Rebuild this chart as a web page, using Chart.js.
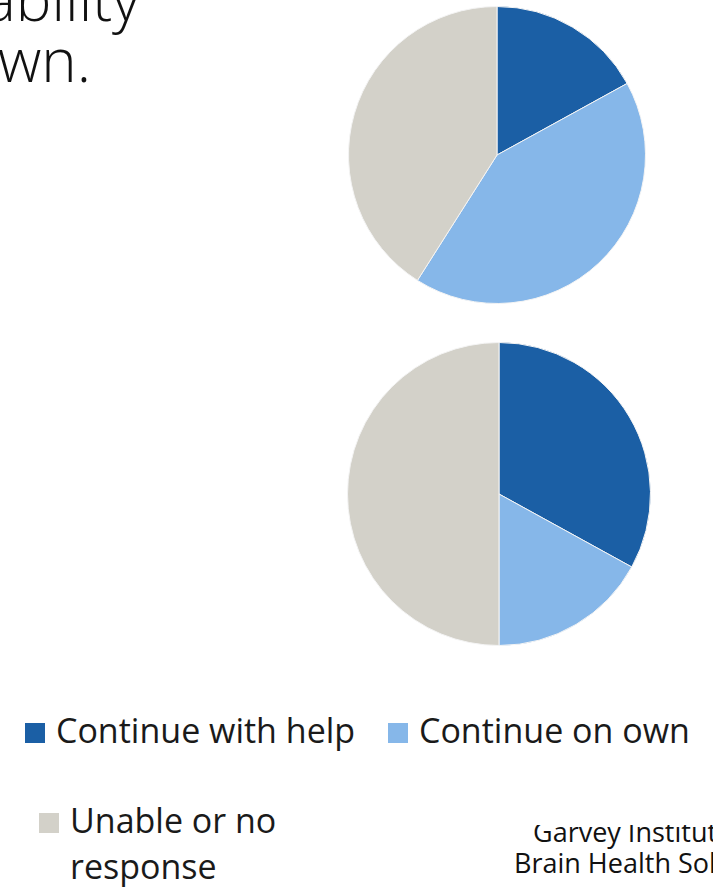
<!DOCTYPE html>
<html>
<head>
<meta charset="utf-8">
<script src="https://cdn.jsdelivr.net/npm/chart.js@4"></script>
<style>
  html, body { margin: 0; padding: 0; background: #fff; }
  body { width: 713px; height: 888px; position: relative; overflow: hidden; font-family: "Open Sans", sans-serif; color: #111; }
  .title-line { position: absolute; font-family: "Open Sans", sans-serif; font-weight: 300; font-size: 60px; line-height: 60px; color: #111; white-space: nowrap; }
  .pie { position: absolute; }
  #pie-top { left: 348px; top: 6px; width: 298px; height: 298px; }
  #pie-bottom { left: 347px; top: 342px; width: 304px; height: 304px; }
  .legend-item { position: absolute; display: flex; align-items: flex-start; font-size: 34px; line-height: 46px; color: #1a1a1a; }
  .legend-item .swatch { width: 20px; height: 20px; margin-top: 16px; margin-right: 11px; flex: none; }
  .footer { position: absolute; left: 0; top: 825px; width: 713px; height: 63px; overflow: hidden; }
  .footer div { position: absolute; font-size: 27px; line-height: 31px; color: #111; white-space: nowrap; }
</style>
</head>
<body>
  <div class="title-line" style="left:-16px; top:-32px;">ability</div>
  <div class="title-line" style="left:-2px; top:29px;">wn.</div>

  <div class="pie" id="pie-top"><canvas id="chart-top"></canvas></div>
  <div class="pie" id="pie-bottom"><canvas id="chart-bottom"></canvas></div>

  <div id="legend"></div>

  <div class="footer">
    <div style="left:533px; top:-9px;">Garvey Institute</div>
    <div style="left:514px; top:22px;">Brain Health Solutions</div>
  </div>

<script>
/* ================== DATA ================== */
const categories = ['Continue with help', 'Continue on own', 'Unable or no response'];
const topValues = [17, 42, 41];      // percent
const bottomValues = [33, 17, 50];   // percent
const sliceColors = ['#1b5fa5', '#86b7e9', '#d3d1c9'];

/* ================== PIE CHARTS ================== */
function makePie(id, values) {
  const ctx = document.getElementById(id).getContext('2d');
  return new Chart(ctx, {
    type: 'pie',
    data: {
      labels: categories,
      datasets: [{
        data: values,
        backgroundColor: sliceColors,
        borderColor: '#f4f4f4',
        borderWidth: 1
      }]
    },
    options: {
      responsive: true,
      maintainAspectRatio: false,
      animation: false,
      layout: { padding: 0 },
      plugins: {
        legend: { display: false },
        tooltip: { enabled: false }
      }
    }
  });
}

makePie('chart-top', topValues);
makePie('chart-bottom', bottomValues);

/* ================== LEGEND ================== */
// two items on the first row, the third wraps onto its own row
const legendSpots = [
  { left: 25, top: 707, width: 345 },
  { left: 388, top: 707, width: 325 },
  { left: 39, top: 797, width: 250 }
];
const legend = document.getElementById('legend');
categories.forEach((label, i) => {
  const item = document.createElement('div');
  item.className = 'legend-item';
  item.style.left = legendSpots[i].left + 'px';
  item.style.top = legendSpots[i].top + 'px';
  item.style.width = legendSpots[i].width + 'px';
  const sw = document.createElement('span');
  sw.className = 'swatch';
  sw.style.background = sliceColors[i];
  const txt = document.createElement('span');
  txt.textContent = label;
  item.appendChild(sw);
  item.appendChild(txt);
  legend.appendChild(item);
});
</script>
</body>
</html>
